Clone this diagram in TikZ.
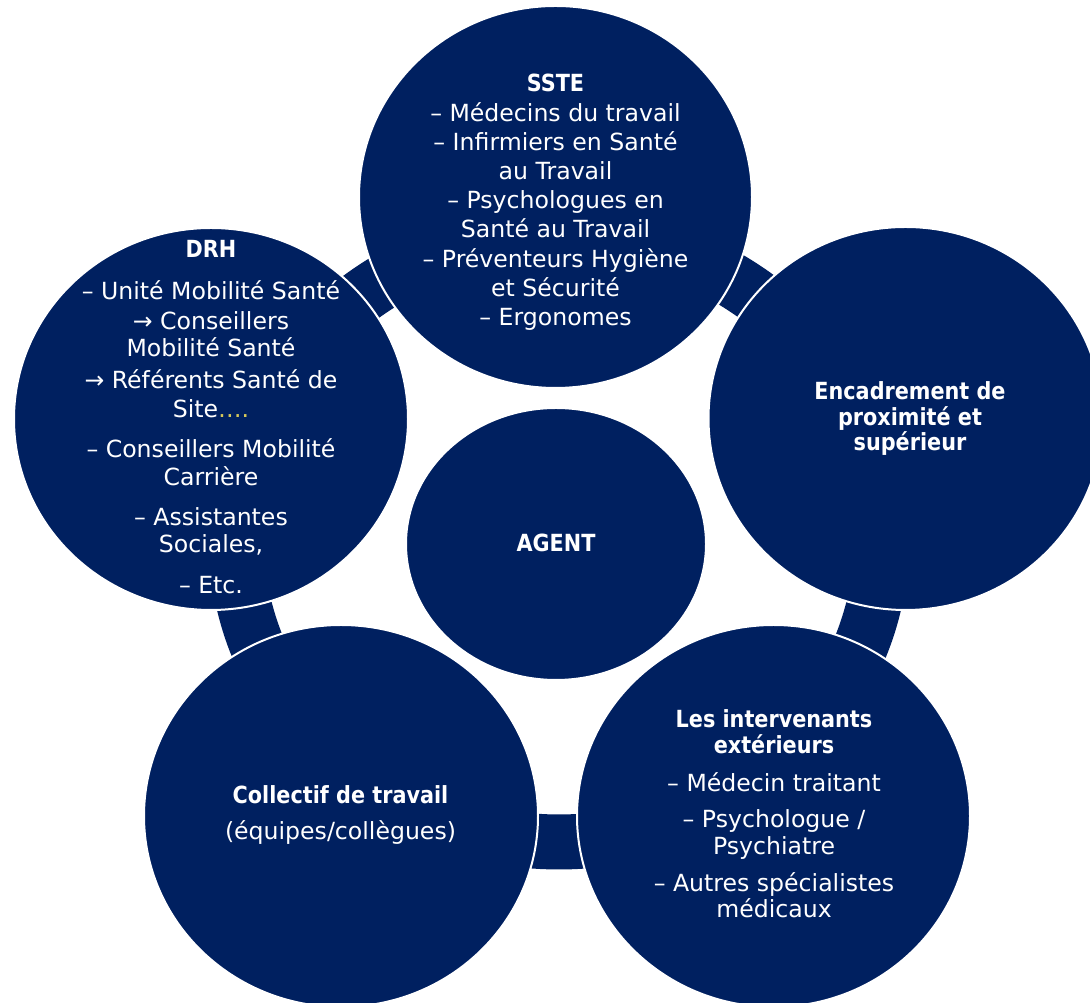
\documentclass[tikz,border=0pt]{standalone}
\usepackage{fontspec}
\setmainfont{DejaVu Sans}[BoldFeatures={FakeStretch=0.88}]
\usetikzlibrary{shapes.geometric,calc}
\definecolor{navy}{HTML}{002060}
\definecolor{dotgold}{RGB}{214,200,90}
\pgfdeclarelayer{background}
\pgfsetlayers{background,main}
% thick ring segment running from one disc to the next around the hub
\newcommand\cyclelink[2]{%
  \draw[link] let \p1=($(#1.center)-(hub)$), \p2=($(#2.center)-(hub)$),
    \n1={atan2(\y1,\x1)}, \n2={atan2(\y2,\x2)},
    \n3={mod(\n2-\n1+540,360)-180}
  in ($(hub)+(\n1:323pt and 304.5pt)$)
     arc[start angle=\n1, delta angle=\n3, x radius=323pt, y radius=304.5pt];}

\begin{document}
\begin{tikzpicture}[x=1pt,y=1pt,
  disc/.style={ellipse, fill=navy, draw=white, line width=2pt, inner sep=0pt},
  captxt/.style={text=white, align=center, inner sep=0pt, anchor=north},
  link/.style={draw=navy, line width=55pt}]
\useasboundingbox (0,0) rectangle (1090,1003);

% discs
\node[disc, minimum width=393pt, minimum height=382pt] (sste)  at (555.5,806) {};
\node[disc, minimum width=394pt, minimum height=382pt] (drh)   at (211,584) {};
\node[disc, minimum width=394pt, minimum height=383pt] (enc)   at (905.5,584.5) {};
\node[disc, minimum width=393pt, minimum height=382pt] (inter) at (773.5,187) {};
\node[disc, minimum width=394pt, minimum height=382pt] (coll)  at (341,187) {};
\node[disc, minimum width=300pt, minimum height=272pt] (agent) at (556,459) {};
\coordinate (hub) at (559,465.5);

% texts
\node[captxt, font=\fontsize{23.6}{29.2}\selectfont] (sste-txt) at (555.5,931.3)
  {\rule{0pt}{20pt}\textbf{SSTE}\\
   – Médecins du travail\\
   – Infirmiers en Santé\\
   au Travail\\
   – Psychologues en\\
   Santé au Travail\\
   – Préventeurs Hygiène\\
   et Sécurité\\
   – Ergonomes};

\node[captxt, font=\fontsize{23.6}{27.5}\selectfont] (drh-txt) at (211,765.7)
  {\rule{0pt}{20pt}\textbf{DRH}\\[14.2pt]
   – Unité Mobilité Santé\\[2.8pt]
   → Conseillers\\
   Mobilité Santé\\[4.2pt]
   → Référents Santé de\\[1.8pt]
   Site{\color{dotgold}….}\\[12.5pt]
   – Conseillers Mobilité\\
   Carrière\\[12.5pt]
   – Assistantes\\
   Sociales,\\[13.5pt]
   – Etc.};

\node[captxt, font=\fontsize{23.6}{25.7}\selectfont\bfseries] (enc-txt) at (910,623.7)
  {\rule{0pt}{20pt}Encadrement de\\
   proximité et\\
   supérieur};

\node[captxt, font=\fontsize{23.6}{26}\selectfont] (inter-txt) at (774,295.7)
  {\rule{0pt}{20pt}\textbf{Les intervenants}\\
   \textbf{extérieurs}\\[11.7pt]
   – Médecin traitant\\[10.3pt]
   – Psychologue /\\[0.7pt]
   Psychiatre\\[11pt]
   – Autres spécialistes\\
   médicaux};

\node[captxt, font=\fontsize{23.6}{36}\selectfont] (coll-txt) at (340.5,219.7)
  {\rule{0pt}{20pt}\textbf{Collectif de travail}\\
   (équipes/collègues)};

\node[captxt, font=\fontsize{23.6}{28}\selectfont\bfseries] (agent-txt) at (556,472)
  {\rule{0pt}{20pt}AGENT};

% ring connectors beneath the discs
\begin{pgfonlayer}{background}
  \fill[white] (0,0) rectangle (1090,1003);
  \cyclelink{sste}{enc}
  \cyclelink{enc}{inter}
  \cyclelink{inter}{coll}
  \cyclelink{coll}{drh}
  \cyclelink{drh}{sste}
\end{pgfonlayer}
\end{tikzpicture}
\end{document}
